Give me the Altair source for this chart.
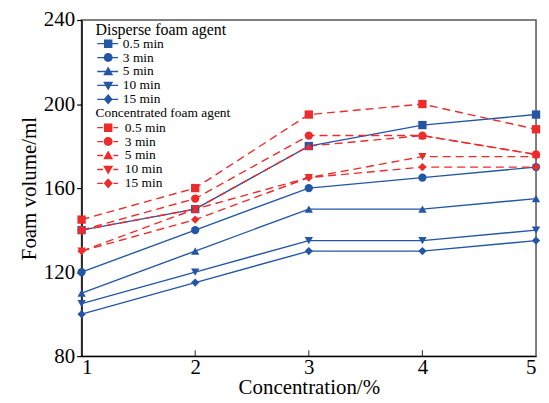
import altair as alt
import pandas as pd

concentration = [1, 2, 3, 4, 5]
times = ["0.5 min", "3 min", "5 min", "10 min", "15 min"]
inner_ticks = [2, 3, 4]

disperse = {
    "0.5 min": [140, 150, 180, 190, 195],
    "3 min": [120, 140, 160, 165, 170],
    "5 min": [110, 130, 150, 150, 155],
    "10 min": [105, 120, 135, 135, 140],
    "15 min": [100, 115, 130, 130, 135],
}
concentrated = {
    "0.5 min": [145, 160, 195, 200, 188],
    "3 min": [140, 155, 185, 185, 176],
    "5 min": [140, 150, 180, 185, 176],
    "10 min": [130, 150, 165, 175, 175],
    "15 min": [130, 145, 165, 170, 170],
}

BLUE = "#2456a6"
RED = "#ee2b2b"
FONT = "Liberation Serif"

shapes = ["square", "circle", "triangle-up", "triangle-down", "diamond"]

# legend glyphs: line + marker (unit = 5 px, symbol box centre at 0)
markers = [
    "M0.35,-0.85H2.05V0.85H0.35Z",
    "M0.3,0A0.9,0.9 0 1 1 2.1,0A0.9,0.9 0 1 1 0.3,0Z",
    "M1.2,-1.0L2.2,0.75L0.2,0.75Z",
    "M1.2,1.0L0.2,-0.75L2.2,-0.75Z",
    "M1.2,-1.05L2.1,0L1.2,1.05L0.3,0Z",
]
solid_line = "M-1,-0.14H3.2V0.14H-1Z"
dash_line = "M-1,-0.14H0.15V0.14H-1ZM2.25,-0.14H3.2V0.14H2.25Z"
solid_paths = [solid_line + m for m in markers]
dash_paths = [dash_line + m for m in markers]


def frame(d):
    rows = []
    for t in times:
        for c, v in zip(concentration, d[t]):
            rows.append({"conc": c, "value": v, "time": t})
    return pd.DataFrame(rows)


df_d = frame(disperse)
df_c = frame(concentrated)
df_ticks = pd.DataFrame({"conc": inner_ticks, "value": [80] * len(inner_ticks)})

x = alt.X("conc:Q", scale=alt.Scale(domain=[1, 5], nice=False, zero=False),
          axis=alt.Axis(title="Concentration/%", values=[1, 2, 3, 4, 5], format="d",
                        ticks=False, grid=False))
y = alt.Y("value:Q", scale=alt.Scale(domain=[80, 240], nice=False, zero=False),
          axis=alt.Axis(title="Foam volume/ml", values=[80, 120, 160, 200, 240],
                        tickSize=5, grid=False))
detail = alt.Detail("time:N")


def shape_enc(field, rng, legend):
    return alt.Shape(f"{field}:N", scale=alt.Scale(domain=times, range=rng), legend=legend)


def make_legend(title, ly, title_size, color, label_offset, title_pad):
    return alt.Legend(title=title, orient="none", legendX=14, legendY=ly,
                      titleFont=FONT, titleFontSize=title_size,
                      titleFontWeight="normal", titleColor="black",
                      titlePadding=title_pad, labelFont=FONT, labelFontSize=13.5,
                      labelColor="black", rowPadding=-1.7,
                      symbolFillColor=color, symbolStrokeColor=color,
                      symbolStrokeWidth=0, symbolSize=100,
                      labelOffset=label_offset, padding=0)


l_d = alt.Chart(df_d).mark_line(color=BLUE, strokeWidth=1.4).encode(x=x, y=y, detail=detail)
p_d = alt.Chart(df_d).mark_point(filled=True, color=BLUE, size=70, opacity=1).encode(
    x=x, y=y, shape=shape_enc("time", shapes, None))
l_c = alt.Chart(df_c).mark_line(color=RED, strokeWidth=1.4, strokeDash=[8, 5]).encode(
    x=x, y=y, detail=detail)
p_c = alt.Chart(df_c).mark_point(filled=True, color=RED, size=70, opacity=1).encode(
    x=x, y=y, shape=shape_enc("time", shapes, None))

tk = alt.Chart(df_ticks).mark_tick(color="black", thickness=1.2, size=6, yOffset=-3,
                                   orient="vertical").encode(x=x, y=y)

lg_d = alt.Chart(df_d).transform_filter("false").mark_point(
    filled=True, color=BLUE, opacity=1).encode(
    shape=shape_enc("time", solid_paths,
                    make_legend("Disperse foam agent", 2, 16, BLUE, 14, -1)))
lg_c = alt.Chart(df_c).transform_filter("false").mark_point(
    filled=True, color=RED, opacity=1).encode(
    shape=shape_enc("time", dash_paths,
                    make_legend("Concentrated foam agent", 87, 13.5, RED, 16, 1)))

chart = alt.layer(l_d, l_c, p_d, p_c, tk, lg_d, lg_c).resolve_scale(shape="independent").properties(
    width=457, height=338, padding={"left": 10, "top": 0, "right": 0, "bottom": 0}
).configure_view(stroke="#555555", strokeWidth=1.5).configure_axis(
    labelFont=FONT, labelFontSize=21, labelColor="black",
    titleFont=FONT, titleFontSize=21, titleFontWeight="normal", titleColor="black",
    domainColor="black", domainWidth=1.3, tickColor="black", tickWidth=1.2,
).configure_axisX(titlePadding=-1, labelPadding=0.5).configure_axisY(titlePadding=4, labelPadding=2)

chart.save("out.html", embed_options={"renderer": "svg", "actions": False})
